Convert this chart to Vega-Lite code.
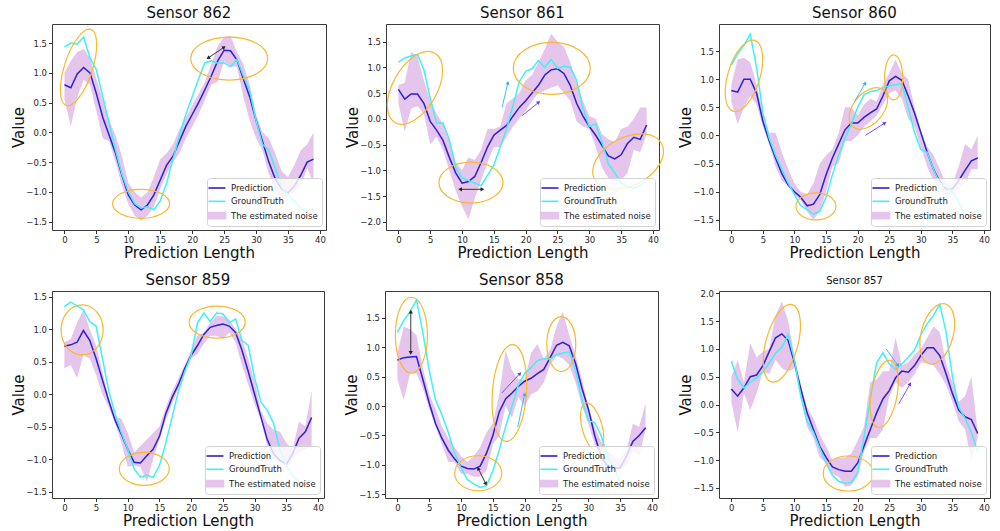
{
"$schema": "https://vega.github.io/schema/vega-lite/v6.json",
"background": "white",
"padding": {"left": 10, "top": 5, "right": 5, "bottom": 5},
"bounds": "full",
"spacing": 11,
"config": {
  "font": "DejaVu Sans",
  "view": {"stroke": "#3a3a3a", "strokeWidth": 1},
  "axis": {"domain": false, "grid": false, "tickColor": "#333", "tickSize": 3.5, "labelFontSize": 8.5, "labelColor": "#262626", "labelPadding": 2, "titleFontSize": 15, "titleFontWeight": "normal", "titleColor": "#111", "labelOverlap": false, "tickCount": 12},
  "axisX": {"titlePadding": 1, "labelFlush": false},
  "axisY": {"minExtent": 24, "maxExtent": 24, "titlePadding": 2},
  "title": {"fontSize": 15, "fontWeight": "normal", "color": "#111", "offset": 3},
  "legend": {"orient": "bottom-right", "offset": 4, "padding": 4, "fillColor": "rgba(255,255,255,0.8)", "strokeColor": "#d2d2d2", "cornerRadius": 3, "labelFontSize": 8.5, "labelColor": "#222", "symbolSize": 100, "rowPadding": 2.3, "labelOffset": 8}
},
"resolve": {"scale": {"color": "independent"}, "legend": {"color": "independent"}},
"datasets": {
"s862": [
{"t":0,"p":0.8,"g":1.43,"lo":0.55,"hi":1.0},{"t":1,"p":0.75,"g":1.5,"lo":0.1,"hi":1.2},{"t":2,"p":0.98,"g":1.48,"lo":0.6,"hi":1.35},{"t":3,"p":1.09,"g":1.6,"lo":0.88,"hi":1.4},{"t":4,"p":1.0,"g":1.25,"lo":0.8,"hi":1.25},{"t":5,"p":0.65,"g":1.05,"lo":0.35,"hi":0.9},{"t":6,"p":0.25,"g":0.6,"lo":-0.1,"hi":0.55},{"t":7,"p":-0.05,"g":0.15,"lo":-0.15,"hi":0.2},{"t":8,"p":-0.35,"g":-0.3,"lo":-0.5,"hi":-0.05},{"t":9,"p":-0.72,"g":-0.7,"lo":-0.9,"hi":-0.4},
{"t":10,"p":-1.05,"g":-1.0,"lo":-1.2,"hi":-0.85},{"t":11,"p":-1.22,"g":-1.2,"lo":-1.4,"hi":-1.0},{"t":12,"p":-1.3,"g":-1.27,"lo":-1.48,"hi":-1.1},{"t":13,"p":-1.22,"g":-1.25,"lo":-1.4,"hi":-1.0},{"t":14,"p":-1.05,"g":-1.3,"lo":-1.25,"hi":-0.75},{"t":15,"p":-0.8,"g":-1.15,"lo":-0.95,"hi":-0.45},{"t":16,"p":-0.55,"g":-0.85,"lo":-0.7,"hi":-0.35},{"t":17,"p":-0.4,"g":-0.45,"lo":-0.5,"hi":-0.2},{"t":18,"p":-0.15,"g":-0.05,"lo":-0.35,"hi":0.05},{"t":19,"p":0.1,"g":0.3,"lo":-0.1,"hi":0.25},
{"t":20,"p":0.3,"g":0.6,"lo":0.1,"hi":0.45},{"t":21,"p":0.5,"g":0.9,"lo":0.3,"hi":0.65},{"t":22,"p":0.72,"g":1.17,"lo":0.55,"hi":0.85},{"t":23,"p":0.95,"g":1.2,"lo":0.8,"hi":1.15},{"t":24,"p":1.2,"g":1.16,"lo":0.85,"hi":1.45},{"t":25,"p":1.38,"g":1.17,"lo":1.2,"hi":1.6},{"t":26,"p":1.37,"g":1.1,"lo":1.1,"hi":1.62},{"t":27,"p":1.22,"g":1.23,"lo":1.1,"hi":1.35},{"t":28,"p":0.9,"g":0.95,"lo":0.6,"hi":1.15},{"t":29,"p":0.6,"g":0.7,"lo":0.2,"hi":0.8},
{"t":30,"p":0.2,"g":0.2,"lo":-0.1,"hi":0.3},{"t":31,"p":-0.15,"g":-0.2,"lo":-0.3,"hi":0.0},{"t":32,"p":-0.5,"g":-0.3,"lo":-0.7,"hi":-0.1},{"t":33,"p":-0.78,"g":-0.6,"lo":-0.95,"hi":-0.35},{"t":34,"p":-0.95,"g":-0.92,"lo":-1.1,"hi":-0.65},{"t":35,"p":-1.02,"g":-1.05,"lo":-1.05,"hi":-0.75},{"t":36,"p":-0.9,"g":-1.15,"lo":-1.0,"hi":-0.55},{"t":37,"p":-0.72,"g":-1.28,"lo":-0.9,"hi":-0.3},{"t":38,"p":-0.5,"g":-1.33,"lo":-0.6,"hi":-0.2},{"t":39,"p":-0.45,"g":-1.28,"lo":-0.85,"hi":0.0}
],
"s861": [
{"t":0,"p":0.57,"g":1.1,"lo":0.3,"hi":0.65},{"t":1,"p":0.38,"g":1.18,"lo":-0.25,"hi":0.7},{"t":2,"p":0.48,"g":1.22,"lo":0.2,"hi":1.3},{"t":3,"p":0.48,"g":1.25,"lo":0.25,"hi":1.2},{"t":4,"p":0.3,"g":0.95,"lo":0.1,"hi":0.75},{"t":5,"p":-0.05,"g":0.4,"lo":-0.5,"hi":0.35},{"t":6,"p":-0.22,"g":-0.08,"lo":-0.35,"hi":0.1},{"t":7,"p":-0.42,"g":-0.08,"lo":-0.6,"hi":-0.1},{"t":8,"p":-0.75,"g":-0.4,"lo":-1.0,"hi":-0.4},{"t":9,"p":-1.05,"g":-0.95,"lo":-1.4,"hi":-0.85},
{"t":10,"p":-1.25,"g":-1.15,"lo":-1.7,"hi":-1.0},{"t":11,"p":-1.22,"g":-1.2,"lo":-1.95,"hi":-0.75},{"t":12,"p":-1.12,"g":-1.25,"lo":-1.55,"hi":-0.8},{"t":13,"p":-0.85,"g":-1.3,"lo":-1.2,"hi":-0.6},{"t":14,"p":-0.55,"g":-1.1,"lo":-0.85,"hi":-0.2},{"t":15,"p":-0.32,"g":-0.9,"lo":-0.55,"hi":-0.2},{"t":16,"p":-0.22,"g":-0.55,"lo":-0.55,"hi":-0.15},{"t":17,"p":-0.13,"g":-0.2,"lo":-0.35,"hi":0.3},{"t":18,"p":0.05,"g":0.25,"lo":-0.15,"hi":0.4},{"t":19,"p":0.22,"g":0.72,"lo":0.0,"hi":0.5},
{"t":20,"p":0.35,"g":0.92,"lo":0.15,"hi":0.75},{"t":21,"p":0.5,"g":0.97,"lo":0.35,"hi":0.85},{"t":22,"p":0.65,"g":1.13,"lo":0.5,"hi":1.1},{"t":23,"p":0.85,"g":1.0,"lo":0.55,"hi":1.35},{"t":24,"p":0.95,"g":1.15,"lo":0.6,"hi":1.65},{"t":25,"p":0.97,"g":0.98,"lo":0.65,"hi":1.5},{"t":26,"p":0.88,"g":1.02,"lo":0.5,"hi":1.4},{"t":27,"p":0.65,"g":1.0,"lo":0.35,"hi":1.1},{"t":28,"p":0.3,"g":0.75,"lo":-0.05,"hi":0.7},{"t":29,"p":0.05,"g":0.2,"lo":-0.15,"hi":0.35},
{"t":30,"p":-0.15,"g":-0.15,"lo":-0.2,"hi":0.05},{"t":31,"p":-0.32,"g":-0.1,"lo":-0.55,"hi":0.0},{"t":32,"p":-0.52,"g":-0.45,"lo":-0.95,"hi":-0.3},{"t":33,"p":-0.72,"g":-0.88,"lo":-1.15,"hi":-0.4},{"t":34,"p":-0.78,"g":-1.05,"lo":-1.22,"hi":-0.45},{"t":35,"p":-0.7,"g":-1.25,"lo":-1.2,"hi":-0.2},{"t":36,"p":-0.48,"g":-1.32,"lo":-1.05,"hi":-0.15},{"t":37,"p":-0.36,"g":-1.35,"lo":-0.6,"hi":0.0},{"t":38,"p":-0.4,"g":-1.3,"lo":-0.65,"hi":0.22},{"t":39,"p":-0.12,"g":-1.18,"lo":-0.3,"hi":0.22}
],
"s860": [
{"t":0,"p":0.8,"g":1.25,"lo":0.6,"hi":0.9},{"t":1,"p":0.77,"g":1.45,"lo":0.2,"hi":1.35},{"t":2,"p":1.0,"g":1.6,"lo":0.5,"hi":1.38},{"t":3,"p":1.0,"g":1.8,"lo":0.7,"hi":1.3},{"t":4,"p":0.75,"g":1.2,"lo":0.55,"hi":0.9},{"t":5,"p":0.25,"g":0.4,"lo":0.15,"hi":0.4},{"t":6,"p":-0.1,"g":-0.05,"lo":-0.15,"hi":0.05},{"t":7,"p":-0.4,"g":-0.35,"lo":-0.55,"hi":0.05},{"t":8,"p":-0.68,"g":-0.6,"lo":-0.8,"hi":-0.3},{"t":9,"p":-0.88,"g":-0.85,"lo":-0.9,"hi":-0.6},
{"t":10,"p":-1.0,"g":-1.05,"lo":-1.05,"hi":-0.85},{"t":11,"p":-1.1,"g":-1.25,"lo":-1.15,"hi":-1.0},{"t":12,"p":-1.25,"g":-1.32,"lo":-1.35,"hi":-1.05},{"t":13,"p":-1.22,"g":-1.4,"lo":-1.5,"hi":-0.85},{"t":14,"p":-1.05,"g":-1.35,"lo":-1.35,"hi":-0.5},{"t":15,"p":-0.7,"g":-1.1,"lo":-1.0,"hi":-0.35},{"t":16,"p":-0.4,"g":-0.7,"lo":-0.55,"hi":-0.25},{"t":17,"p":-0.15,"g":-0.35,"lo":-0.5,"hi":0.05},{"t":18,"p":0.1,"g":-0.05,"lo":-0.1,"hi":0.5},{"t":19,"p":0.22,"g":0.2,"lo":-0.1,"hi":0.5},
{"t":20,"p":0.22,"g":0.5,"lo":0.0,"hi":0.35},{"t":21,"p":0.32,"g":0.72,"lo":0.15,"hi":0.55},{"t":22,"p":0.4,"g":0.78,"lo":0.25,"hi":0.65},{"t":23,"p":0.47,"g":0.8,"lo":0.35,"hi":0.6},{"t":24,"p":0.7,"g":0.85,"lo":0.55,"hi":0.9},{"t":25,"p":0.97,"g":0.88,"lo":0.75,"hi":1.1},{"t":26,"p":1.05,"g":0.9,"lo":0.8,"hi":1.35},{"t":27,"p":0.98,"g":0.92,"lo":0.65,"hi":1.1},{"t":28,"p":0.7,"g":0.5,"lo":0.3,"hi":1.0},{"t":29,"p":0.4,"g":0.05,"lo":0.15,"hi":0.5},
{"t":30,"p":0.05,"g":-0.25,"lo":-0.2,"hi":0.1},{"t":31,"p":-0.3,"g":-0.3,"lo":-0.55,"hi":-0.2},{"t":32,"p":-0.6,"g":-0.6,"lo":-0.8,"hi":-0.35},{"t":33,"p":-0.82,"g":-0.85,"lo":-0.95,"hi":-0.6},{"t":34,"p":-0.95,"g":-0.92,"lo":-1.05,"hi":-0.85},{"t":35,"p":-0.95,"g":-1.0,"lo":-1.05,"hi":-0.85},{"t":36,"p":-0.8,"g":-1.2,"lo":-0.95,"hi":-0.55},{"t":37,"p":-0.62,"g":-1.4,"lo":-0.85,"hi":-0.15},{"t":38,"p":-0.45,"g":-1.4,"lo":-0.6,"hi":-0.25},{"t":39,"p":-0.4,"g":-1.32,"lo":-0.6,"hi":0.0}
],
"s859": [
{"t":0,"p":0.74,"g":1.35,"lo":0.4,"hi":0.8},{"t":1,"p":0.76,"g":1.42,"lo":0.45,"hi":0.85},{"t":2,"p":0.8,"g":1.36,"lo":0.25,"hi":1.1},{"t":3,"p":0.98,"g":1.3,"lo":0.6,"hi":1.3},{"t":4,"p":0.83,"g":1.12,"lo":0.55,"hi":1.0},{"t":5,"p":0.55,"g":1.05,"lo":0.3,"hi":0.75},{"t":6,"p":0.22,"g":0.55,"lo":0.0,"hi":0.35},{"t":7,"p":-0.1,"g":0.05,"lo":-0.2,"hi":-0.05},{"t":8,"p":-0.4,"g":-0.3,"lo":-0.45,"hi":-0.35},{"t":9,"p":-0.62,"g":-0.6,"lo":-0.75,"hi":-0.38},
{"t":10,"p":-0.85,"g":-0.85,"lo":-1.12,"hi":-0.6},{"t":11,"p":-1.05,"g":-1.15,"lo":-1.1,"hi":-0.9},{"t":12,"p":-1.06,"g":-1.28,"lo":-1.12,"hi":-0.8},{"t":13,"p":-0.95,"g":-1.25,"lo":-1.35,"hi":-0.7},{"t":14,"p":-0.85,"g":-1.28,"lo":-1.0,"hi":-0.6},{"t":15,"p":-0.65,"g":-1.1,"lo":-0.7,"hi":-0.5},{"t":16,"p":-0.3,"g":-0.75,"lo":-0.4,"hi":-0.2},{"t":17,"p":-0.05,"g":-0.35,"lo":-0.15,"hi":0.05},{"t":18,"p":0.15,"g":0.05,"lo":0.1,"hi":0.25},{"t":19,"p":0.4,"g":0.35,"lo":0.35,"hi":0.45},
{"t":20,"p":0.6,"g":0.6,"lo":0.55,"hi":0.68},{"t":21,"p":0.75,"g":1.1,"lo":0.62,"hi":0.9},{"t":22,"p":0.92,"g":1.25,"lo":0.78,"hi":0.95},{"t":23,"p":1.03,"g":1.12,"lo":0.9,"hi":1.1},{"t":24,"p":1.06,"g":1.25,"lo":0.9,"hi":1.2},{"t":25,"p":1.08,"g":1.24,"lo":0.85,"hi":1.2},{"t":26,"p":1.05,"g":1.1,"lo":0.95,"hi":1.15},{"t":27,"p":0.95,"g":1.16,"lo":0.8,"hi":1.0},{"t":28,"p":0.68,"g":0.83,"lo":0.45,"hi":0.85},{"t":29,"p":0.35,"g":0.75,"lo":0.15,"hi":0.55},
{"t":30,"p":0.0,"g":0.25,"lo":-0.15,"hi":0.2},{"t":31,"p":-0.35,"g":-0.12,"lo":-0.4,"hi":-0.25},{"t":32,"p":-0.7,"g":-0.25,"lo":-0.8,"hi":-0.45},{"t":33,"p":-0.92,"g":-0.45,"lo":-1.0,"hi":-0.55},{"t":34,"p":-1.02,"g":-0.85,"lo":-1.05,"hi":-0.58},{"t":35,"p":-1.08,"g":-1.1,"lo":-1.15,"hi":-0.75},{"t":36,"p":-0.92,"g":-1.25,"lo":-1.0,"hi":-0.85},{"t":37,"p":-0.68,"g":-1.35,"lo":-0.9,"hi":-0.42},{"t":38,"p":-0.58,"g":-1.35,"lo":-0.85,"hi":-0.5},{"t":39,"p":-0.36,"g":-1.34,"lo":-0.8,"hi":0.05}
],
"s858": [
{"t":0,"p":0.78,"g":1.25,"lo":0.45,"hi":0.9},{"t":1,"p":0.82,"g":1.45,"lo":0.1,"hi":1.35},{"t":2,"p":0.83,"g":1.6,"lo":0.55,"hi":1.3},{"t":3,"p":0.84,"g":1.8,"lo":0.55,"hi":1.2},{"t":4,"p":0.45,"g":1.25,"lo":0.3,"hi":0.65},{"t":5,"p":0.05,"g":0.6,"lo":-0.05,"hi":0.2},{"t":6,"p":-0.3,"g":0.1,"lo":-0.35,"hi":-0.05},{"t":7,"p":-0.55,"g":-0.15,"lo":-0.65,"hi":-0.35},{"t":8,"p":-0.75,"g":-0.45,"lo":-0.95,"hi":-0.55},{"t":9,"p":-0.9,"g":-0.8,"lo":-0.95,"hi":-0.7},
{"t":10,"p":-1.02,"g":-1.05,"lo":-1.15,"hi":-0.85},{"t":11,"p":-1.06,"g":-1.25,"lo":-1.15,"hi":-0.95},{"t":12,"p":-1.07,"g":-1.32,"lo":-1.2,"hi":-0.85},{"t":13,"p":-1.02,"g":-1.38,"lo":-1.2,"hi":-0.7},{"t":14,"p":-0.8,"g":-1.35,"lo":-1.1,"hi":-0.45},{"t":15,"p":-0.5,"g":-1.1,"lo":-0.65,"hi":-0.3},{"t":16,"p":-0.1,"g":-0.75,"lo":-0.5,"hi":0.2},{"t":17,"p":0.12,"g":-0.35,"lo":0.0,"hi":0.95},{"t":18,"p":0.22,"g":0.0,"lo":-0.2,"hi":0.6},{"t":19,"p":0.33,"g":0.35,"lo":0.15,"hi":0.45},
{"t":20,"p":0.42,"g":0.55,"lo":0.0,"hi":0.45},{"t":21,"p":0.47,"g":0.65,"lo":0.2,"hi":0.9},{"t":22,"p":0.55,"g":0.77,"lo":0.25,"hi":1.05},{"t":23,"p":0.62,"g":0.8,"lo":0.4,"hi":0.8},{"t":24,"p":0.82,"g":0.8,"lo":0.7,"hi":0.95},{"t":25,"p":1.03,"g":0.87,"lo":0.85,"hi":1.35},{"t":26,"p":1.08,"g":0.9,"lo":0.8,"hi":1.6},{"t":27,"p":1.02,"g":0.92,"lo":0.7,"hi":1.2},{"t":28,"p":0.72,"g":0.6,"lo":0.4,"hi":0.85},{"t":29,"p":0.3,"g":0.1,"lo":0.0,"hi":0.45},
{"t":30,"p":-0.05,"g":-0.25,"lo":-0.3,"hi":0.0},{"t":31,"p":-0.5,"g":-0.28,"lo":-0.65,"hi":-0.35},{"t":32,"p":-0.85,"g":-0.5,"lo":-0.95,"hi":-0.6},{"t":33,"p":-1.02,"g":-0.85,"lo":-1.05,"hi":-0.75},{"t":34,"p":-1.05,"g":-1.05,"lo":-1.1,"hi":-0.85},{"t":35,"p":-1.05,"g":-1.28,"lo":-1.1,"hi":-0.9},{"t":36,"p":-0.85,"g":-1.32,"lo":-1.0,"hi":-0.75},{"t":37,"p":-0.6,"g":-1.35,"lo":-0.75,"hi":-0.3},{"t":38,"p":-0.5,"g":-1.38,"lo":-0.85,"hi":-0.35},{"t":39,"p":-0.37,"g":-1.38,"lo":-0.4,"hi":0.05}
],
"s857": [
{"t":0,"p":0.28,"g":0.78,"lo":0.05,"hi":0.5},{"t":1,"p":0.15,"g":0.45,"lo":-0.5,"hi":0.8},{"t":2,"p":0.3,"g":0.3,"lo":0.2,"hi":0.4},{"t":3,"p":0.5,"g":0.4,"lo":-0.1,"hi":1.1},{"t":4,"p":0.53,"g":0.48,"lo":0.2,"hi":0.85},{"t":5,"p":0.7,"g":0.58,"lo":0.6,"hi":0.95},{"t":6,"p":0.95,"g":0.75,"lo":0.55,"hi":1.0},{"t":7,"p":1.2,"g":0.92,"lo":0.8,"hi":1.6},{"t":8,"p":1.27,"g":1.03,"lo":0.65,"hi":1.85},{"t":9,"p":1.15,"g":1.25,"lo":0.6,"hi":1.5},
{"t":10,"p":0.75,"g":0.8,"lo":0.65,"hi":0.85},{"t":11,"p":0.28,"g":0.15,"lo":0.1,"hi":0.35},{"t":12,"p":-0.15,"g":-0.3,"lo":-0.4,"hi":-0.05},{"t":13,"p":-0.45,"g":-0.5,"lo":-0.6,"hi":-0.25},{"t":14,"p":-0.75,"g":-0.78,"lo":-0.95,"hi":-0.55},{"t":15,"p":-0.95,"g":-1.05,"lo":-1.05,"hi":-0.75},{"t":16,"p":-1.12,"g":-1.27,"lo":-1.25,"hi":-1.0},{"t":17,"p":-1.17,"g":-1.38,"lo":-1.3,"hi":-0.95},{"t":18,"p":-1.2,"g":-1.42,"lo":-1.48,"hi":-0.95},{"t":19,"p":-1.2,"g":-1.4,"lo":-1.45,"hi":-0.88},
{"t":20,"p":-1.05,"g":-1.22,"lo":-1.3,"hi":-0.65},{"t":21,"p":-0.75,"g":-0.6,"lo":-0.85,"hi":-0.4},{"t":22,"p":-0.45,"g":0.1,"lo":-0.6,"hi":0.4},{"t":23,"p":-0.15,"g":0.75,"lo":-0.6,"hi":0.45},{"t":24,"p":0.1,"g":0.93,"lo":-0.45,"hi":0.6},{"t":25,"p":0.25,"g":0.73,"lo":0.15,"hi":0.6},{"t":26,"p":0.48,"g":0.63,"lo":0.4,"hi":1.2},{"t":27,"p":0.6,"g":0.73,"lo":0.3,"hi":0.7},{"t":28,"p":0.58,"g":0.85,"lo":0.4,"hi":0.75},{"t":29,"p":0.7,"g":0.98,"lo":0.55,"hi":0.9},
{"t":30,"p":0.88,"g":1.25,"lo":0.75,"hi":1.0},{"t":31,"p":1.02,"g":1.45,"lo":0.75,"hi":1.2},{"t":32,"p":1.02,"g":1.6,"lo":0.7,"hi":1.4},{"t":33,"p":0.88,"g":1.8,"lo":0.55,"hi":1.3},{"t":34,"p":0.55,"g":1.3,"lo":0.35,"hi":0.75},{"t":35,"p":0.2,"g":0.5,"lo":0.05,"hi":0.4},{"t":36,"p":-0.1,"g":-0.05,"lo":-0.3,"hi":0.05},{"t":37,"p":-0.22,"g":-0.25,"lo":-0.45,"hi":0.15},{"t":38,"p":-0.27,"g":-0.5,"lo":-1.0,"hi":0.5},{"t":39,"p":-0.52,"g":-0.85,"lo":-0.6,"hi":-0.5}
]
},
"vconcat": [
{"hconcat": [
 {"title": "Sensor 862", "width": 274, "height": 206, "data": {"name": "s862"},
  "encoding": {"x": {"field": "t", "type": "quantitative", "title": "Prediction Length", "scale": {"domain": [-1.95, 40.95], "nice": false, "zero": false}, "axis": {"values": [0,5,10,15,20,25,30,35,40], "format": "d", "labelOverlap": false, "tickCount": 12}}},
  "layer": [
   {"mark": {"type": "area", "opacity": 1}, "encoding": {"y": {"field": "lo", "type": "quantitative", "title": "Value", "scale": {"domain": [-1.64, 1.82], "nice": false, "zero": false}, "axis": {"values": [-1.5,-1,-0.5,0,0.5,1,1.5], "format": ".1f", "labelOverlap": false, "tickCount": 12}}, "y2": {"field": "hi"},
     "color": {"datum": "The estimated noise", "type": "nominal", "scale": {"domain": ["Prediction", "GroundTruth", "The estimated noise"], "range": ["#2c1fd4", "#40f0f5", "#e5c5eb"]},
       "legend": {"title": null, "symbolType": "M-1.7,0L1.7,0", "encode": {"symbols": {"update": {"shape": {"signal": "datum.value === 'The estimated noise' ? 'M-1.7,-0.6L1.7,-0.6L1.7,0.6L-1.7,0.6Z' : 'M-1.7,0L1.7,0'"}, "fill": {"signal": "datum.value === 'The estimated noise' ? '#e5c5eb' : 'transparent'"}, "stroke": {"signal": "datum.value === 'Prediction' ? '#2c1fd4' : datum.value === 'GroundTruth' ? '#40f0f5' : 'transparent'"}, "strokeWidth": {"value": 1.6}, "size": {"value": 100}, "opacity": {"value": 1}}}}}}}},
   {"mark": {"type": "line", "strokeWidth": 1.5}, "encoding": {"y": {"field": "p", "type": "quantitative", "title": "Value"}, "color": {"datum": "Prediction", "type": "nominal",
       "legend": {"title": null, "symbolType": "M-1.7,0L1.7,0", "encode": {"symbols": {"update": {"shape": {"signal": "datum.value === 'The estimated noise' ? 'M-1.7,-0.6L1.7,-0.6L1.7,0.6L-1.7,0.6Z' : 'M-1.7,0L1.7,0'"}, "fill": {"signal": "datum.value === 'The estimated noise' ? '#e5c5eb' : 'transparent'"}, "stroke": {"signal": "datum.value === 'Prediction' ? '#2c1fd4' : datum.value === 'GroundTruth' ? '#40f0f5' : 'transparent'"}, "strokeWidth": {"value": 1.6}, "size": {"value": 100}, "opacity": {"value": 1}}}}}}}},
   {"mark": {"type": "line", "strokeWidth": 1.5}, "encoding": {"y": {"field": "g", "type": "quantitative", "title": "Value"}, "color": {"datum": "GroundTruth", "type": "nominal",
       "legend": {"title": null, "symbolType": "M-1.7,0L1.7,0", "encode": {"symbols": {"update": {"shape": {"signal": "datum.value === 'The estimated noise' ? 'M-1.7,-0.6L1.7,-0.6L1.7,0.6L-1.7,0.6Z' : 'M-1.7,0L1.7,0'"}, "fill": {"signal": "datum.value === 'The estimated noise' ? '#e5c5eb' : 'transparent'"}, "stroke": {"signal": "datum.value === 'Prediction' ? '#2c1fd4' : datum.value === 'GroundTruth' ? '#40f0f5' : 'transparent'"}, "strokeWidth": {"value": 1.6}, "size": {"value": 100}, "opacity": {"value": 1}}}}}}}},
   {"data": {"values": [{"t": 2.2, "v": 1.09}]}, "mark": {"type": "point", "filled": false, "opacity": 1, "stroke": "#f9b82e", "strokeWidth": 1.2, "size": 4, "angle": 18, "shape": "M-14,0C-14,-22.1,-7.7,-40,0,-40C7.7,-40,14,-22.1,14,0C14,22.1,7.7,40,0,40C-7.7,40,-14,22.1,-14,0Z"}, "encoding": {"y": {"field": "v", "type": "quantitative"}}},
   {"data": {"values": [{"t": 25.8, "v": 1.24}]}, "mark": {"type": "point", "filled": false, "opacity": 1, "stroke": "#f9b82e", "strokeWidth": 1.2, "size": 4, "shape": "M-38.5,0C-38.5,-11.9,-21.3,-21.5,0,-21.5C21.3,-21.5,38.5,-11.9,38.5,0C38.5,11.9,21.3,21.5,0,21.5C-21.3,21.5,-38.5,11.9,-38.5,0Z"}, "encoding": {"y": {"field": "v", "type": "quantitative"}}},
   {"data": {"values": [{"t": 12.0, "v": -1.2}]}, "mark": {"type": "point", "filled": false, "opacity": 1, "stroke": "#f9b82e", "strokeWidth": 1.2, "size": 4, "shape": "M-28.5,0C-28.5,-8,-15.7,-14.5,0,-14.5C15.7,-14.5,28.5,-8,28.5,0C28.5,8,15.7,14.5,0,14.5C-15.7,14.5,-28.5,8,-28.5,0Z"}, "encoding": {"y": {"field": "v", "type": "quantitative"}}},
   {"data": {"values": [{"t": 22.5, "v": 1.25, "t2": 25, "v2": 1.43, "kind": "diff"}]}, "mark": {"type": "rule", "strokeWidth": 0.9}, "encoding": {"y": {"field": "v", "type": "quantitative"}, "x2": {"field": "t2"}, "y2": {"field": "v2"}, "stroke": {"field": "kind", "type": "nominal", "scale": {"domain": ["diff", "gt", "pred"], "range": ["#222222", "#2bb5f0", "#6a3df0"]}, "legend": null}}},
   {"data": {"values": [{"t": 25, "v": 1.43, "dir": 56, "kind": "diff"}, {"t": 22.5, "v": 1.25, "dir": 236, "kind": "diff"}]}, "mark": {"type": "point", "shape": "triangle-up", "filled": true, "opacity": 1, "size": 18}, "encoding": {"y": {"field": "v", "type": "quantitative"}, "angle": {"field": "dir", "type": "quantitative", "scale": null}, "fill": {"field": "kind", "type": "nominal", "scale": {"domain": ["diff", "gt", "pred"], "range": ["#222222", "#2bb5f0", "#6a3df0"]}, "legend": null}}}
  ]},
 {"title": "Sensor 861", "width": 273, "height": 206, "data": {"name": "s861"},
  "encoding": {"x": {"field": "t", "type": "quantitative", "title": "Prediction Length", "scale": {"domain": [-1.95, 40.95], "nice": false, "zero": false}, "axis": {"values": [0,5,10,15,20,25,30,35,40], "format": "d", "labelOverlap": false, "tickCount": 12}}},
  "layer": [
   {"mark": {"type": "area", "opacity": 1}, "encoding": {"y": {"field": "lo", "type": "quantitative", "title": "Value", "scale": {"domain": [-2.16, 1.84], "nice": false, "zero": false}, "axis": {"values": [-2,-1.5,-1,-0.5,0,0.5,1,1.5], "format": ".1f", "labelOverlap": false, "tickCount": 12}}, "y2": {"field": "hi"},
     "color": {"datum": "The estimated noise", "type": "nominal", "scale": {"domain": ["Prediction", "GroundTruth", "The estimated noise"], "range": ["#2c1fd4", "#40f0f5", "#e5c5eb"]},
       "legend": {"title": null, "symbolType": "M-1.7,0L1.7,0", "encode": {"symbols": {"update": {"shape": {"signal": "datum.value === 'The estimated noise' ? 'M-1.7,-0.6L1.7,-0.6L1.7,0.6L-1.7,0.6Z' : 'M-1.7,0L1.7,0'"}, "fill": {"signal": "datum.value === 'The estimated noise' ? '#e5c5eb' : 'transparent'"}, "stroke": {"signal": "datum.value === 'Prediction' ? '#2c1fd4' : datum.value === 'GroundTruth' ? '#40f0f5' : 'transparent'"}, "strokeWidth": {"value": 1.6}, "size": {"value": 100}, "opacity": {"value": 1}}}}}}}},
   {"mark": {"type": "line", "strokeWidth": 1.5}, "encoding": {"y": {"field": "p", "type": "quantitative", "title": "Value"}, "color": {"datum": "Prediction", "type": "nominal",
       "legend": {"title": null, "symbolType": "M-1.7,0L1.7,0", "encode": {"symbols": {"update": {"shape": {"signal": "datum.value === 'The estimated noise' ? 'M-1.7,-0.6L1.7,-0.6L1.7,0.6L-1.7,0.6Z' : 'M-1.7,0L1.7,0'"}, "fill": {"signal": "datum.value === 'The estimated noise' ? '#e5c5eb' : 'transparent'"}, "stroke": {"signal": "datum.value === 'Prediction' ? '#2c1fd4' : datum.value === 'GroundTruth' ? '#40f0f5' : 'transparent'"}, "strokeWidth": {"value": 1.6}, "size": {"value": 100}, "opacity": {"value": 1}}}}}}}},
   {"mark": {"type": "line", "strokeWidth": 1.5}, "encoding": {"y": {"field": "g", "type": "quantitative", "title": "Value"}, "color": {"datum": "GroundTruth", "type": "nominal",
       "legend": {"title": null, "symbolType": "M-1.7,0L1.7,0", "encode": {"symbols": {"update": {"shape": {"signal": "datum.value === 'The estimated noise' ? 'M-1.7,-0.6L1.7,-0.6L1.7,0.6L-1.7,0.6Z' : 'M-1.7,0L1.7,0'"}, "fill": {"signal": "datum.value === 'The estimated noise' ? '#e5c5eb' : 'transparent'"}, "stroke": {"signal": "datum.value === 'Prediction' ? '#2c1fd4' : datum.value === 'GroundTruth' ? '#40f0f5' : 'transparent'"}, "strokeWidth": {"value": 1.6}, "size": {"value": 100}, "opacity": {"value": 1}}}}}}}},
   {"data": {"values": [{"t": 2.6, "v": 0.6}]}, "mark": {"type": "point", "filled": false, "opacity": 1, "stroke": "#f9b82e", "strokeWidth": 1.2, "size": 4, "angle": 30, "shape": "M-22,0C-22,-22.1,-12.2,-40,0,-40C12.2,-40,22,-22.1,22,0C22,22.1,12.2,40,0,40C-12.2,40,-22,22.1,-22,0Z"}, "encoding": {"y": {"field": "v", "type": "quantitative"}}},
   {"data": {"values": [{"t": 24.1, "v": 0.98}]}, "mark": {"type": "point", "filled": false, "opacity": 1, "stroke": "#f9b82e", "strokeWidth": 1.2, "size": 4, "shape": "M-38.5,0C-38.5,-14.4,-21.3,-26,0,-26C21.3,-26,38.5,-14.4,38.5,0C38.5,14.4,21.3,26,0,26C-21.3,26,-38.5,14.4,-38.5,0Z"}, "encoding": {"y": {"field": "v", "type": "quantitative"}}},
   {"data": {"values": [{"t": 11.4, "v": -1.24}]}, "mark": {"type": "point", "filled": false, "opacity": 1, "stroke": "#f9b82e", "strokeWidth": 1.2, "size": 4, "shape": "M-32,0C-32,-11.3,-17.7,-20.5,0,-20.5C17.7,-20.5,32,-11.3,32,0C32,11.3,17.7,20.5,0,20.5C-17.7,20.5,-32,11.3,-32,0Z"}, "encoding": {"y": {"field": "v", "type": "quantitative"}}},
   {"data": {"values": [{"t": 36.1, "v": -0.83}]}, "mark": {"type": "point", "filled": false, "opacity": 1, "stroke": "#f9b82e", "strokeWidth": 1.2, "size": 4, "angle": -28, "shape": "M-38,0C-38,-13.3,-21,-24,0,-24C21,-24,38,-13.3,38,0C38,13.3,21,24,0,24C-21,24,-38,13.3,-38,0Z"}, "encoding": {"y": {"field": "v", "type": "quantitative"}}},
   {"data": {"values": [{"t": 9.7, "v": -1.37, "t2": 13.2, "v2": -1.37, "kind": "diff"}, {"t": 16.3, "v": 0.22, "t2": 17.2, "v2": 0.7, "kind": "gt"}, {"t": 19.45, "v": 0.06, "t2": 22.05, "v2": 0.32, "kind": "pred"}]}, "mark": {"type": "rule", "strokeWidth": 0.9}, "encoding": {"y": {"field": "v", "type": "quantitative"}, "x2": {"field": "t2"}, "y2": {"field": "v2"}, "stroke": {"field": "kind", "type": "nominal", "scale": {"domain": ["diff", "gt", "pred"], "range": ["#222222", "#2bb5f0", "#6a3df0"]}, "legend": null}}},
   {"data": {"values": [{"t": 13.2, "v": -1.37, "dir": 90, "kind": "diff"}, {"t": 9.7, "v": -1.37, "dir": 270, "kind": "diff"}, {"t": 17.2, "v": 0.7, "dir": 13, "kind": "gt"}, {"t": 22.05, "v": 0.32, "dir": 51, "kind": "pred"}]}, "mark": {"type": "point", "shape": "triangle-up", "filled": true, "opacity": 1, "size": 18}, "encoding": {"y": {"field": "v", "type": "quantitative"}, "angle": {"field": "dir", "type": "quantitative", "scale": null}, "fill": {"field": "kind", "type": "nominal", "scale": {"domain": ["diff", "gt", "pred"], "range": ["#222222", "#2bb5f0", "#6a3df0"]}, "legend": null}}}
  ]},
 {"title": "Sensor 860", "width": 271, "height": 206, "data": {"name": "s860"},
  "encoding": {"x": {"field": "t", "type": "quantitative", "title": "Prediction Length", "scale": {"domain": [-1.95, 40.95], "nice": false, "zero": false}, "axis": {"values": [0,5,10,15,20,25,30,35,40], "format": "d", "labelOverlap": false, "tickCount": 12}}},
  "layer": [
   {"mark": {"type": "area", "opacity": 1}, "encoding": {"y": {"field": "lo", "type": "quantitative", "title": "Value", "scale": {"domain": [-1.68, 1.98], "nice": false, "zero": false}, "axis": {"values": [-1.5,-1,-0.5,0,0.5,1,1.5], "format": ".1f", "labelOverlap": false, "tickCount": 12}}, "y2": {"field": "hi"},
     "color": {"datum": "The estimated noise", "type": "nominal", "scale": {"domain": ["Prediction", "GroundTruth", "The estimated noise"], "range": ["#2c1fd4", "#40f0f5", "#e5c5eb"]},
       "legend": {"title": null, "symbolType": "M-1.7,0L1.7,0", "encode": {"symbols": {"update": {"shape": {"signal": "datum.value === 'The estimated noise' ? 'M-1.7,-0.6L1.7,-0.6L1.7,0.6L-1.7,0.6Z' : 'M-1.7,0L1.7,0'"}, "fill": {"signal": "datum.value === 'The estimated noise' ? '#e5c5eb' : 'transparent'"}, "stroke": {"signal": "datum.value === 'Prediction' ? '#2c1fd4' : datum.value === 'GroundTruth' ? '#40f0f5' : 'transparent'"}, "strokeWidth": {"value": 1.6}, "size": {"value": 100}, "opacity": {"value": 1}}}}}}}},
   {"mark": {"type": "line", "strokeWidth": 1.5}, "encoding": {"y": {"field": "p", "type": "quantitative", "title": "Value"}, "color": {"datum": "Prediction", "type": "nominal",
       "legend": {"title": null, "symbolType": "M-1.7,0L1.7,0", "encode": {"symbols": {"update": {"shape": {"signal": "datum.value === 'The estimated noise' ? 'M-1.7,-0.6L1.7,-0.6L1.7,0.6L-1.7,0.6Z' : 'M-1.7,0L1.7,0'"}, "fill": {"signal": "datum.value === 'The estimated noise' ? '#e5c5eb' : 'transparent'"}, "stroke": {"signal": "datum.value === 'Prediction' ? '#2c1fd4' : datum.value === 'GroundTruth' ? '#40f0f5' : 'transparent'"}, "strokeWidth": {"value": 1.6}, "size": {"value": 100}, "opacity": {"value": 1}}}}}}}},
   {"mark": {"type": "line", "strokeWidth": 1.5}, "encoding": {"y": {"field": "g", "type": "quantitative", "title": "Value"}, "color": {"datum": "GroundTruth", "type": "nominal",
       "legend": {"title": null, "symbolType": "M-1.7,0L1.7,0", "encode": {"symbols": {"update": {"shape": {"signal": "datum.value === 'The estimated noise' ? 'M-1.7,-0.6L1.7,-0.6L1.7,0.6L-1.7,0.6Z' : 'M-1.7,0L1.7,0'"}, "fill": {"signal": "datum.value === 'The estimated noise' ? '#e5c5eb' : 'transparent'"}, "stroke": {"signal": "datum.value === 'Prediction' ? '#2c1fd4' : datum.value === 'GroundTruth' ? '#40f0f5' : 'transparent'"}, "strokeWidth": {"value": 1.6}, "size": {"value": 100}, "opacity": {"value": 1}}}}}}}},
   {"data": {"values": [{"t": 2.0, "v": 1.06}]}, "mark": {"type": "point", "filled": false, "opacity": 1, "stroke": "#f9b82e", "strokeWidth": 1.2, "size": 4, "angle": 17, "shape": "M-16,0C-16,-20.4,-8.8,-37,0,-37C8.8,-37,16,-20.4,16,0C16,20.4,8.8,37,0,37C-8.8,37,-16,20.4,-16,0Z"}, "encoding": {"y": {"field": "v", "type": "quantitative"}}},
   {"data": {"values": [{"t": 21.7, "v": 0.48}]}, "mark": {"type": "point", "filled": false, "opacity": 1, "stroke": "#f9b82e", "strokeWidth": 1.2, "size": 4, "angle": 40, "shape": "M-15,0C-15,-13.3,-8.3,-24,0,-24C8.3,-24,15,-13.3,15,0C15,13.3,8.3,24,0,24C-8.3,24,-15,13.3,-15,0Z"}, "encoding": {"y": {"field": "v", "type": "quantitative"}}},
   {"data": {"values": [{"t": 25.7, "v": 1.03}]}, "mark": {"type": "point", "filled": false, "opacity": 1, "stroke": "#f9b82e", "strokeWidth": 1.2, "size": 4, "shape": "M-9,0C-9,-12.4,-5,-22.5,0,-22.5C5,-22.5,9,-12.4,9,0C9,12.4,5,22.5,0,22.5C-5,22.5,-9,12.4,-9,0Z"}, "encoding": {"y": {"field": "v", "type": "quantitative"}}},
   {"data": {"values": [{"t": 13.4, "v": -1.26}]}, "mark": {"type": "point", "filled": false, "opacity": 1, "stroke": "#f9b82e", "strokeWidth": 1.2, "size": 4, "shape": "M-20,0C-20,-7.5,-11,-13.5,0,-13.5C11,-13.5,20,-7.5,20,0C20,7.5,11,13.5,0,13.5C-11,13.5,-20,7.5,-20,0Z"}, "encoding": {"y": {"field": "v", "type": "quantitative"}}},
   {"data": {"values": [{"t": 19.6, "v": 0.62, "t2": 21.2, "v2": 0.93, "kind": "gt"}, {"t": 21.2, "v": 0.0, "t2": 24.3, "v2": 0.22, "kind": "pred"}]}, "mark": {"type": "rule", "strokeWidth": 0.9}, "encoding": {"y": {"field": "v", "type": "quantitative"}, "x2": {"field": "t2"}, "y2": {"field": "v2"}, "stroke": {"field": "kind", "type": "nominal", "scale": {"domain": ["diff", "gt", "pred"], "range": ["#222222", "#2bb5f0", "#6a3df0"]}, "legend": null}}},
   {"data": {"values": [{"t": 21.2, "v": 0.93, "dir": 30, "kind": "gt"}, {"t": 24.3, "v": 0.22, "dir": 58, "kind": "pred"}]}, "mark": {"type": "point", "shape": "triangle-up", "filled": true, "opacity": 1, "size": 18}, "encoding": {"y": {"field": "v", "type": "quantitative"}, "angle": {"field": "dir", "type": "quantitative", "scale": null}, "fill": {"field": "kind", "type": "nominal", "scale": {"domain": ["diff", "gt", "pred"], "range": ["#222222", "#2bb5f0", "#6a3df0"]}, "legend": null}}}
  ]}
 ], "spacing": 60, "bounds": "flush", "resolve": {"scale": {"color": "independent"}, "legend": {"color": "independent"}}},
{"hconcat": [
 {"title": "Sensor 859", "width": 272, "height": 207, "data": {"name": "s859"},
  "encoding": {"x": {"field": "t", "type": "quantitative", "title": "Prediction Length", "scale": {"domain": [-1.95, 40.95], "nice": false, "zero": false}, "axis": {"values": [0,5,10,15,20,25,30,35,40], "format": "d", "labelOverlap": false, "tickCount": 12}}},
  "layer": [
   {"mark": {"type": "area", "opacity": 1}, "encoding": {"y": {"field": "lo", "type": "quantitative", "title": "Value", "scale": {"domain": [-1.6, 1.59], "nice": false, "zero": false}, "axis": {"values": [-1.5,-1,-0.5,0,0.5,1,1.5], "format": ".1f", "labelOverlap": false, "tickCount": 12}}, "y2": {"field": "hi"},
     "color": {"datum": "The estimated noise", "type": "nominal", "scale": {"domain": ["Prediction", "GroundTruth", "The estimated noise"], "range": ["#2c1fd4", "#40f0f5", "#e5c5eb"]},
       "legend": {"title": null, "symbolType": "M-1.7,0L1.7,0", "encode": {"symbols": {"update": {"shape": {"signal": "datum.value === 'The estimated noise' ? 'M-1.7,-0.6L1.7,-0.6L1.7,0.6L-1.7,0.6Z' : 'M-1.7,0L1.7,0'"}, "fill": {"signal": "datum.value === 'The estimated noise' ? '#e5c5eb' : 'transparent'"}, "stroke": {"signal": "datum.value === 'Prediction' ? '#2c1fd4' : datum.value === 'GroundTruth' ? '#40f0f5' : 'transparent'"}, "strokeWidth": {"value": 1.6}, "size": {"value": 100}, "opacity": {"value": 1}}}}}}}},
   {"mark": {"type": "line", "strokeWidth": 1.5}, "encoding": {"y": {"field": "p", "type": "quantitative", "title": "Value"}, "color": {"datum": "Prediction", "type": "nominal",
       "legend": {"title": null, "symbolType": "M-1.7,0L1.7,0", "encode": {"symbols": {"update": {"shape": {"signal": "datum.value === 'The estimated noise' ? 'M-1.7,-0.6L1.7,-0.6L1.7,0.6L-1.7,0.6Z' : 'M-1.7,0L1.7,0'"}, "fill": {"signal": "datum.value === 'The estimated noise' ? '#e5c5eb' : 'transparent'"}, "stroke": {"signal": "datum.value === 'Prediction' ? '#2c1fd4' : datum.value === 'GroundTruth' ? '#40f0f5' : 'transparent'"}, "strokeWidth": {"value": 1.6}, "size": {"value": 100}, "opacity": {"value": 1}}}}}}}},
   {"mark": {"type": "line", "strokeWidth": 1.5}, "encoding": {"y": {"field": "g", "type": "quantitative", "title": "Value"}, "color": {"datum": "GroundTruth", "type": "nominal",
       "legend": {"title": null, "symbolType": "M-1.7,0L1.7,0", "encode": {"symbols": {"update": {"shape": {"signal": "datum.value === 'The estimated noise' ? 'M-1.7,-0.6L1.7,-0.6L1.7,0.6L-1.7,0.6Z' : 'M-1.7,0L1.7,0'"}, "fill": {"signal": "datum.value === 'The estimated noise' ? '#e5c5eb' : 'transparent'"}, "stroke": {"signal": "datum.value === 'Prediction' ? '#2c1fd4' : datum.value === 'GroundTruth' ? '#40f0f5' : 'transparent'"}, "strokeWidth": {"value": 1.6}, "size": {"value": 100}, "opacity": {"value": 1}}}}}}}},
   {"data": {"values": [{"t": 2.8, "v": 0.99}]}, "mark": {"type": "point", "filled": false, "opacity": 1, "stroke": "#f9b82e", "strokeWidth": 1.2, "size": 4, "shape": "M-21,0C-21,-13.8,-11.6,-25,0,-25C11.6,-25,21,-13.8,21,0C21,13.8,11.6,25,0,25C-11.6,25,-21,13.8,-21,0Z"}, "encoding": {"y": {"field": "v", "type": "quantitative"}}},
   {"data": {"values": [{"t": 24.1, "v": 1.11}]}, "mark": {"type": "point", "filled": false, "opacity": 1, "stroke": "#f9b82e", "strokeWidth": 1.2, "size": 4, "shape": "M-28,0C-28,-8.8,-15.5,-16,0,-16C15.5,-16,28,-8.8,28,0C28,8.8,15.5,16,0,16C-15.5,16,-28,8.8,-28,0Z"}, "encoding": {"y": {"field": "v", "type": "quantitative"}}},
   {"data": {"values": [{"t": 12.6, "v": -1.15}]}, "mark": {"type": "point", "filled": false, "opacity": 1, "stroke": "#f9b82e", "strokeWidth": 1.2, "size": 4, "shape": "M-25,0C-25,-9.1,-13.8,-16.5,0,-16.5C13.8,-16.5,25,-9.1,25,0C25,9.1,13.8,16.5,0,16.5C-13.8,16.5,-25,9.1,-25,0Z"}, "encoding": {"y": {"field": "v", "type": "quantitative"}}}
  ]},
 {"title": "Sensor 858", "width": 273, "height": 207, "data": {"name": "s858"},
  "encoding": {"x": {"field": "t", "type": "quantitative", "title": "Prediction Length", "scale": {"domain": [-1.95, 40.95], "nice": false, "zero": false}, "axis": {"values": [0,5,10,15,20,25,30,35,40], "format": "d", "labelOverlap": false, "tickCount": 12}}},
  "layer": [
   {"mark": {"type": "area", "opacity": 1}, "encoding": {"y": {"field": "lo", "type": "quantitative", "title": "Value", "scale": {"domain": [-1.56, 1.95], "nice": false, "zero": false}, "axis": {"values": [-1.5,-1,-0.5,0,0.5,1,1.5], "format": ".1f", "labelOverlap": false, "tickCount": 12}}, "y2": {"field": "hi"},
     "color": {"datum": "The estimated noise", "type": "nominal", "scale": {"domain": ["Prediction", "GroundTruth", "The estimated noise"], "range": ["#2c1fd4", "#40f0f5", "#e5c5eb"]},
       "legend": {"title": null, "symbolType": "M-1.7,0L1.7,0", "encode": {"symbols": {"update": {"shape": {"signal": "datum.value === 'The estimated noise' ? 'M-1.7,-0.6L1.7,-0.6L1.7,0.6L-1.7,0.6Z' : 'M-1.7,0L1.7,0'"}, "fill": {"signal": "datum.value === 'The estimated noise' ? '#e5c5eb' : 'transparent'"}, "stroke": {"signal": "datum.value === 'Prediction' ? '#2c1fd4' : datum.value === 'GroundTruth' ? '#40f0f5' : 'transparent'"}, "strokeWidth": {"value": 1.6}, "size": {"value": 100}, "opacity": {"value": 1}}}}}}}},
   {"mark": {"type": "line", "strokeWidth": 1.5}, "encoding": {"y": {"field": "p", "type": "quantitative", "title": "Value"}, "color": {"datum": "Prediction", "type": "nominal",
       "legend": {"title": null, "symbolType": "M-1.7,0L1.7,0", "encode": {"symbols": {"update": {"shape": {"signal": "datum.value === 'The estimated noise' ? 'M-1.7,-0.6L1.7,-0.6L1.7,0.6L-1.7,0.6Z' : 'M-1.7,0L1.7,0'"}, "fill": {"signal": "datum.value === 'The estimated noise' ? '#e5c5eb' : 'transparent'"}, "stroke": {"signal": "datum.value === 'Prediction' ? '#2c1fd4' : datum.value === 'GroundTruth' ? '#40f0f5' : 'transparent'"}, "strokeWidth": {"value": 1.6}, "size": {"value": 100}, "opacity": {"value": 1}}}}}}}},
   {"mark": {"type": "line", "strokeWidth": 1.5}, "encoding": {"y": {"field": "g", "type": "quantitative", "title": "Value"}, "color": {"datum": "GroundTruth", "type": "nominal",
       "legend": {"title": null, "symbolType": "M-1.7,0L1.7,0", "encode": {"symbols": {"update": {"shape": {"signal": "datum.value === 'The estimated noise' ? 'M-1.7,-0.6L1.7,-0.6L1.7,0.6L-1.7,0.6Z' : 'M-1.7,0L1.7,0'"}, "fill": {"signal": "datum.value === 'The estimated noise' ? '#e5c5eb' : 'transparent'"}, "stroke": {"signal": "datum.value === 'Prediction' ? '#2c1fd4' : datum.value === 'GroundTruth' ? '#40f0f5' : 'transparent'"}, "strokeWidth": {"value": 1.6}, "size": {"value": 100}, "opacity": {"value": 1}}}}}}}},
   {"data": {"values": [{"t": 2.2, "v": 1.2}]}, "mark": {"type": "point", "filled": false, "opacity": 1, "stroke": "#f9b82e", "strokeWidth": 1.2, "size": 4, "shape": "M-16,0C-16,-21,-8.8,-38,0,-38C8.8,-38,16,-21,16,0C16,21,8.8,38,0,38C-8.8,38,-16,21,-16,0Z"}, "encoding": {"y": {"field": "v", "type": "quantitative"}}},
   {"data": {"values": [{"t": 17.6, "v": 0.22}]}, "mark": {"type": "point", "filled": false, "opacity": 1, "stroke": "#f9b82e", "strokeWidth": 1.2, "size": 4, "angle": 4, "shape": "M-17,0C-17,-26.8,-9.4,-48.5,0,-48.5C9.4,-48.5,17,-26.8,17,0C17,26.8,9.4,48.5,0,48.5C-9.4,48.5,-17,26.8,-17,0Z"}, "encoding": {"y": {"field": "v", "type": "quantitative"}}},
   {"data": {"values": [{"t": 25.75, "v": 1.05}]}, "mark": {"type": "point", "filled": false, "opacity": 1, "stroke": "#f9b82e", "strokeWidth": 1.2, "size": 4, "shape": "M-14.5,0C-14.5,-15.2,-8,-27.5,0,-27.5C8,-27.5,14.5,-15.2,14.5,0C14.5,15.2,8,27.5,0,27.5C-8,27.5,-14.5,15.2,-14.5,0Z"}, "encoding": {"y": {"field": "v", "type": "quantitative"}}},
   {"data": {"values": [{"t": 30.6, "v": -0.36}]}, "mark": {"type": "point", "filled": false, "opacity": 1, "stroke": "#f9b82e", "strokeWidth": 1.2, "size": 4, "angle": -15, "shape": "M-10,0C-10,-13.8,-5.5,-25,0,-25C5.5,-25,10,-13.8,10,0C10,13.8,5.5,25,0,25C-5.5,25,-10,13.8,-10,0Z"}, "encoding": {"y": {"field": "v", "type": "quantitative"}}},
   {"data": {"values": [{"t": 12.7, "v": -1.14}]}, "mark": {"type": "point", "filled": false, "opacity": 1, "stroke": "#f9b82e", "strokeWidth": 1.2, "size": 4, "shape": "M-23.5,0C-23.5,-9.7,-13,-17.5,0,-17.5C13,-17.5,23.5,-9.7,23.5,0C23.5,9.7,13,17.5,0,17.5C-13,17.5,-23.5,9.7,-23.5,0Z"}, "encoding": {"y": {"field": "v", "type": "quantitative"}}},
   {"data": {"values": [{"t": 2.1, "v": 1.6, "t2": 2.1, "v2": 0.9, "kind": "diff"}, {"t": 12.7, "v": -1.06, "t2": 13.9, "v2": -1.32, "kind": "diff"}, {"t": 16.4, "v": 0.22, "t2": 19.25, "v2": 0.55, "kind": "pred"}, {"t": 18.9, "v": -0.36, "t2": 20.0, "v2": 0.2, "kind": "gt"}]}, "mark": {"type": "rule", "strokeWidth": 0.9}, "encoding": {"y": {"field": "v", "type": "quantitative"}, "x2": {"field": "t2"}, "y2": {"field": "v2"}, "stroke": {"field": "kind", "type": "nominal", "scale": {"domain": ["diff", "gt", "pred"], "range": ["#222222", "#2bb5f0", "#6a3df0"]}, "legend": null}}},
   {"data": {"values": [{"t": 2.1, "v": 1.6, "dir": 0, "kind": "diff"}, {"t": 2.1, "v": 0.9, "dir": 180, "kind": "diff"}, {"t": 13.9, "v": -1.32, "dir": 153, "kind": "diff"}, {"t": 12.7, "v": -1.06, "dir": 333, "kind": "diff"}, {"t": 19.25, "v": 0.55, "dir": 43, "kind": "pred"}, {"t": 20.0, "v": 0.2, "dir": 12, "kind": "gt"}]}, "mark": {"type": "point", "shape": "triangle-up", "filled": true, "opacity": 1, "size": 18}, "encoding": {"y": {"field": "v", "type": "quantitative"}, "angle": {"field": "dir", "type": "quantitative", "scale": null}, "fill": {"field": "kind", "type": "nominal", "scale": {"domain": ["diff", "gt", "pred"], "range": ["#222222", "#2bb5f0", "#6a3df0"]}, "legend": null}}}
  ]},
 {"title": {"text": "Sensor 857", "fontSize": 10}, "width": 271, "height": 207, "data": {"name": "s857"},
  "encoding": {"x": {"field": "t", "type": "quantitative", "title": "Prediction Length", "scale": {"domain": [-1.95, 40.95], "nice": false, "zero": false}, "axis": {"values": [0,5,10,15,20,25,30,35,40], "format": "d", "labelOverlap": false, "tickCount": 12}}},
  "layer": [
   {"mark": {"type": "area", "opacity": 1}, "encoding": {"y": {"field": "lo", "type": "quantitative", "title": "Value", "scale": {"domain": [-1.68, 2.04], "nice": false, "zero": false}, "axis": {"values": [-1.5,-1,-0.5,0,0.5,1,1.5,2], "format": ".1f", "labelOverlap": false, "tickCount": 12}}, "y2": {"field": "hi"},
     "color": {"datum": "The estimated noise", "type": "nominal", "scale": {"domain": ["Prediction", "GroundTruth", "The estimated noise"], "range": ["#2c1fd4", "#40f0f5", "#e5c5eb"]},
       "legend": {"title": null, "symbolType": "M-1.7,0L1.7,0", "encode": {"symbols": {"update": {"shape": {"signal": "datum.value === 'The estimated noise' ? 'M-1.7,-0.6L1.7,-0.6L1.7,0.6L-1.7,0.6Z' : 'M-1.7,0L1.7,0'"}, "fill": {"signal": "datum.value === 'The estimated noise' ? '#e5c5eb' : 'transparent'"}, "stroke": {"signal": "datum.value === 'Prediction' ? '#2c1fd4' : datum.value === 'GroundTruth' ? '#40f0f5' : 'transparent'"}, "strokeWidth": {"value": 1.6}, "size": {"value": 100}, "opacity": {"value": 1}}}}}}}},
   {"mark": {"type": "line", "strokeWidth": 1.5}, "encoding": {"y": {"field": "p", "type": "quantitative", "title": "Value"}, "color": {"datum": "Prediction", "type": "nominal",
       "legend": {"title": null, "symbolType": "M-1.7,0L1.7,0", "encode": {"symbols": {"update": {"shape": {"signal": "datum.value === 'The estimated noise' ? 'M-1.7,-0.6L1.7,-0.6L1.7,0.6L-1.7,0.6Z' : 'M-1.7,0L1.7,0'"}, "fill": {"signal": "datum.value === 'The estimated noise' ? '#e5c5eb' : 'transparent'"}, "stroke": {"signal": "datum.value === 'Prediction' ? '#2c1fd4' : datum.value === 'GroundTruth' ? '#40f0f5' : 'transparent'"}, "strokeWidth": {"value": 1.6}, "size": {"value": 100}, "opacity": {"value": 1}}}}}}}},
   {"mark": {"type": "line", "strokeWidth": 1.5}, "encoding": {"y": {"field": "g", "type": "quantitative", "title": "Value"}, "color": {"datum": "GroundTruth", "type": "nominal",
       "legend": {"title": null, "symbolType": "M-1.7,0L1.7,0", "encode": {"symbols": {"update": {"shape": {"signal": "datum.value === 'The estimated noise' ? 'M-1.7,-0.6L1.7,-0.6L1.7,0.6L-1.7,0.6Z' : 'M-1.7,0L1.7,0'"}, "fill": {"signal": "datum.value === 'The estimated noise' ? '#e5c5eb' : 'transparent'"}, "stroke": {"signal": "datum.value === 'Prediction' ? '#2c1fd4' : datum.value === 'GroundTruth' ? '#40f0f5' : 'transparent'"}, "strokeWidth": {"value": 1.6}, "size": {"value": 100}, "opacity": {"value": 1}}}}}}}},
   {"data": {"values": [{"t": 8.0, "v": 1.1}]}, "mark": {"type": "point", "filled": false, "opacity": 1, "stroke": "#f9b82e", "strokeWidth": 1.2, "size": 4, "angle": 15, "shape": "M-16,0C-16,-22.1,-8.8,-40,0,-40C8.8,-40,16,-22.1,16,0C16,22.1,8.8,40,0,40C-8.8,40,-16,22.1,-16,0Z"}, "encoding": {"y": {"field": "v", "type": "quantitative"}}},
   {"data": {"values": [{"t": 24.2, "v": 0.19}]}, "mark": {"type": "point", "filled": false, "opacity": 1, "stroke": "#f9b82e", "strokeWidth": 1.2, "size": 4, "angle": 10, "shape": "M-13,0C-13,-18.8,-7.2,-34,0,-34C7.2,-34,13,-18.8,13,0C13,18.8,7.2,34,0,34C-7.2,34,-13,18.8,-13,0Z"}, "encoding": {"y": {"field": "v", "type": "quantitative"}}},
   {"data": {"values": [{"t": 32.6, "v": 1.27}]}, "mark": {"type": "point", "filled": false, "opacity": 1, "stroke": "#f9b82e", "strokeWidth": 1.2, "size": 4, "angle": 15, "shape": "M-16,0C-16,-17.1,-8.8,-31,0,-31C8.8,-31,16,-17.1,16,0C16,17.1,8.8,31,0,31C-8.8,31,-16,17.1,-16,0Z"}, "encoding": {"y": {"field": "v", "type": "quantitative"}}},
   {"data": {"values": [{"t": 18.5, "v": -1.24}]}, "mark": {"type": "point", "filled": false, "opacity": 1, "stroke": "#f9b82e", "strokeWidth": 1.2, "size": 4, "shape": "M-25,0C-25,-9.7,-13.8,-17.5,0,-17.5C13.8,-17.5,25,-9.7,25,0C25,9.7,13.8,17.5,0,17.5C-13.8,17.5,-25,9.7,-25,0Z"}, "encoding": {"y": {"field": "v", "type": "quantitative"}}},
   {"data": {"values": [{"t": 24.5, "v": 1.0, "t2": 26.4, "v2": 0.7, "kind": "gt"}, {"t": 26.5, "v": 0.01, "t2": 28.3, "v2": 0.37, "kind": "pred"}]}, "mark": {"type": "rule", "strokeWidth": 0.9}, "encoding": {"y": {"field": "v", "type": "quantitative"}, "x2": {"field": "t2"}, "y2": {"field": "v2"}, "stroke": {"field": "kind", "type": "nominal", "scale": {"domain": ["diff", "gt", "pred"], "range": ["#222222", "#2bb5f0", "#6a3df0"]}, "legend": null}}},
   {"data": {"values": [{"t": 26.4, "v": 0.7, "dir": 144, "kind": "gt"}, {"t": 28.3, "v": 0.37, "dir": 30, "kind": "pred"}]}, "mark": {"type": "point", "shape": "triangle-up", "filled": true, "opacity": 1, "size": 18}, "encoding": {"y": {"field": "v", "type": "quantitative"}, "angle": {"field": "dir", "type": "quantitative", "scale": null}, "fill": {"field": "kind", "type": "nominal", "scale": {"domain": ["diff", "gt", "pred"], "range": ["#222222", "#2bb5f0", "#6a3df0"]}, "legend": null}}}
  ]}
 ], "spacing": 61, "bounds": "flush", "resolve": {"scale": {"color": "independent"}, "legend": {"color": "independent"}}}
]
}
